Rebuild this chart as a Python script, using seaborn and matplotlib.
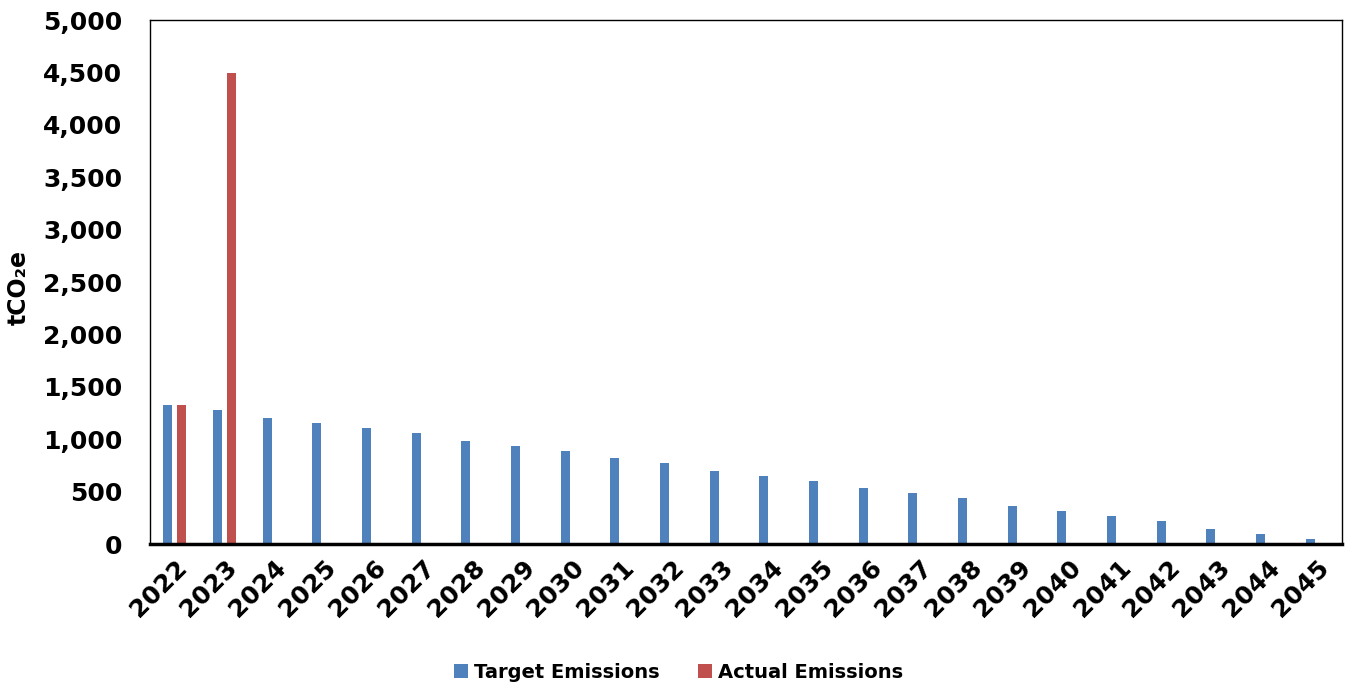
import numpy as np
import pandas as pd
import matplotlib
import matplotlib.pyplot as plt
import seaborn as sns
from matplotlib.ticker import FuncFormatter
from matplotlib.patches import Patch

matplotlib.use('Agg')

# data
years = [str(y) for y in range(2022, 2046)]
target_emissions = [1325, 1275, 1200, 1155, 1105, 1058, 987, 939, 890, 819, 771, 700,
                    652, 603, 532, 484, 435, 361, 313, 265, 219, 145, 97, 48]
actual_years = ['2022', '2023']
actual_emissions = [1325, 4490]

series_names = ['Target Emissions', 'Actual Emissions']
colors = ['#4F81BD', '#C0504D']

df = pd.concat([
    pd.DataFrame({'year': years, 'series': series_names[0], 'value': target_emissions}),
    pd.DataFrame({'year': actual_years, 'series': series_names[1], 'value': actual_emissions}),
], ignore_index=True)

sns.set_style('white')
plt.rcParams['font.family'] = ['DejaVu Sans']
plt.rcParams['font.weight'] = 'bold'
plt.rcParams['text.color'] = 'black'
plt.rcParams['axes.labelcolor'] = 'black'
plt.rcParams['xtick.color'] = 'black'
plt.rcParams['ytick.color'] = 'black'

fig = plt.figure(figsize=(13.57, 6.89), dpi=100)
ax = fig.add_axes([150 / 1357, 1 - 544 / 689, 1192 / 1357, 524 / 689])

sns.barplot(data=df, x='year', y='value', hue='series', order=years,
            hue_order=series_names, palette=colors, width=0.56, gap=0.36,
            saturation=1, edgecolor='none', ax=ax, legend=False)

ax.set_ylim(0, 5000)
ax.set_yticks(np.arange(0, 5001, 500))
ax.yaxis.set_major_formatter(FuncFormatter(lambda v, p: f'{int(v):,}'))
ax.set_xlim(-0.5, len(years) - 0.5)

ax.tick_params(axis='y', length=0, pad=20, labelsize=18, labelcolor='black')
ax.tick_params(axis='x', length=0, pad=8, labelsize=18, labelcolor='black')
for lbl in ax.get_yticklabels() + ax.get_xticklabels():
    lbl.set_fontweight('bold')
plt.setp(ax.get_xticklabels(), rotation=45, ha='right', rotation_mode='anchor')

ax.set_xlabel('')
ax.set_ylabel('tCO₂e', fontsize=17, fontweight='bold', color='black')
ax.yaxis.set_label_coords(-0.1, 0.49)

for side in ['left', 'top', 'right']:
    ax.spines[side].set_visible(True)
    ax.spines[side].set_color('black')
    ax.spines[side].set_linewidth(1.0)
ax.spines['bottom'].set_color('black')
ax.spines['bottom'].set_linewidth(2.5)
ax.grid(False)

handles = [Patch(facecolor=c, edgecolor='none') for c in colors]
fig.legend(handles, series_names, loc='center', bbox_to_anchor=(0.5, 0.024),
           ncol=2, frameon=False, prop={'size': 14, 'weight': 'bold'},
           labelcolor='black', handlelength=0.7, handleheight=0.7,
           handletextpad=0.3, columnspacing=2.0)

fig.savefig('out.png', dpi=100)
plt.close(fig)
